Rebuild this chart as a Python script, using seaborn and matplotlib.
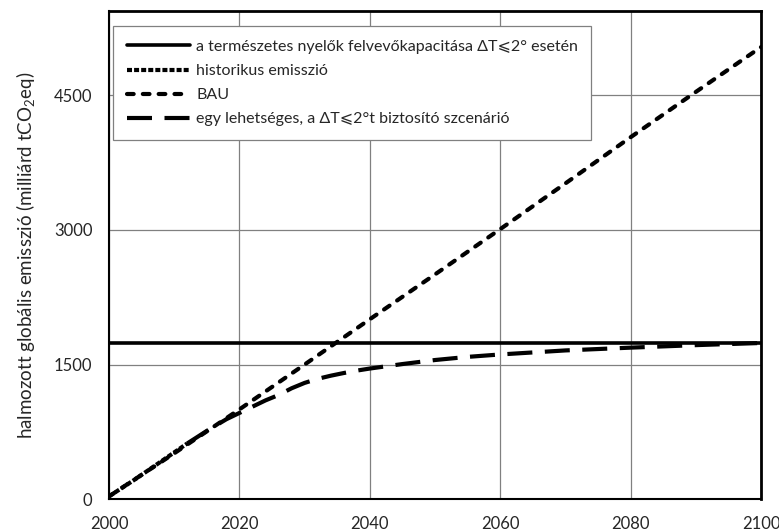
import numpy as np
import pandas as pd
import matplotlib
matplotlib.use("Agg")
import matplotlib.pyplot as plt
import seaborn as sns

sns.set_style("white")
plt.rcParams['font.family'] = ['Lato', 'DejaVu Sans']
plt.rcParams['mathtext.fontset'] = 'custom'
plt.rcParams['mathtext.rm'] = 'Lato'
plt.rcParams['mathtext.it'] = 'Lato:italic'

# values (milliard tCO2eq, cumulative)
sink_years = [2000, 2100]
sink_values = [1740, 1740]

hist_years = [2000, 2004, 2008, 2012]
hist_values = [30, 220, 420, 620]

bau_years = [2000, 2010, 2020, 2030, 2040, 2050, 2060, 2070, 2080, 2090, 2100]
bau_values = [30, 510, 1000, 1500, 2005, 2505, 3010, 3520, 4035, 4540, 5040]

scen_years = [2012, 2015, 2018, 2020, 2022, 2024, 2026, 2028, 2030, 2032, 2034,
              2036, 2038, 2040, 2045, 2050, 2055, 2060, 2070, 2080, 2090, 2100]
scen_values = [620, 760, 890, 960, 1030, 1100, 1160, 1235, 1295, 1340, 1375,
               1405, 1432, 1455, 1505, 1550, 1585, 1612, 1657, 1688, 1716, 1740]

labels = ["a természetes nyelők felvevőkapacitása ΔT⩽2° esetén",
          "historikus emisszió",
          "BAU",
          "egy lehetséges, a ΔT⩽2°t biztosító szcenárió"]

fig = plt.figure(figsize=(7.79, 5.32), dpi=100)
ax = fig.add_axes([0.14, 0.062, 0.837, 0.917])

ax.grid(True, color="#808080", lw=0.9)
ax.set_axisbelow(True)

sns.lineplot(x=sink_years, y=sink_values, ax=ax, color="k", lw=2.6, label=labels[0])
sns.lineplot(x=hist_years, y=hist_values, ax=ax, color="k", lw=3.0,
             linestyle=(0, (1.2, 0.5)), label=labels[1])
sns.lineplot(x=bau_years, y=bau_values, ax=ax, color="k", lw=3.0,
             linestyle=(0, (1.6, 2.2)), dash_capstyle="round", label=labels[2])
sns.lineplot(x=scen_years, y=scen_values, ax=ax, color="k", lw=3.0,
             linestyle=(0, (6, 3)), label=labels[3])

ax.set_xlim(2000, 2100)
ax.set_ylim(0, 5440)
ax.set_xticks(range(2000, 2101, 20))
ax.set_yticks([0, 1500, 3000, 4500])
ax.tick_params(axis="y", length=10, width=0.9, color="#808080", labelsize=12, pad=2)
ax.tick_params(axis="x", length=0, labelsize=12, pad=12)
ax.set_ylabel("halmozott globális emisszió (milliárd tCO$_2$eq)", fontsize=13.5, labelpad=12)

for side in ax.spines:
    ax.spines[side].set_color("k")
ax.spines["left"].set_linewidth(1.5)
ax.spines["bottom"].set_linewidth(1.5)
ax.spines["top"].set_linewidth(2)
ax.spines["right"].set_linewidth(2)

leg = ax.legend(loc="upper left", bbox_to_anchor=(0.006, 0.969), borderaxespad=0,
                fontsize=11.5, frameon=True, fancybox=False, edgecolor="#808080",
                framealpha=1, handlelength=4, handletextpad=0.35, labelspacing=0.62,
                borderpad=0.85)
leg.get_frame().set_linewidth(0.9)

fig.savefig("out.png", dpi=100)
